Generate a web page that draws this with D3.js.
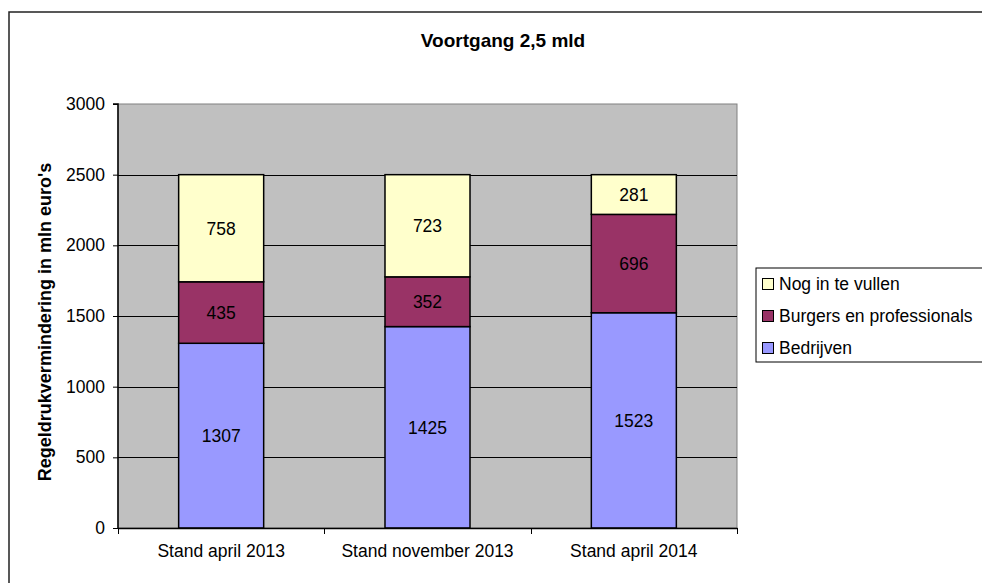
<!DOCTYPE html>
<html>
<head>
<meta charset="utf-8">
<script src="https://cdn.jsdelivr.net/npm/d3@7"></script>
<style>
body { margin: 0; background: #fff; }
svg { display: block; font-family: "Liberation Sans", Arial, sans-serif; }
</style>
</head>
<body>
<div id="chart"></div>
<script>
// stand per moment, in mln euro's
var categories = ["Stand april 2013", "Stand november 2013", "Stand april 2014"];
var bedrijven = [1307, 1425, 1523];
var burgers = [435, 352, 696];
var nogInTeVullen = [758, 723, 281];
var seriesNames = ["Bedrijven", "Burgers en professionals", "Nog in te vullen"];
var seriesColors = ["#9999ff", "#993366", "#ffffcc"];
var yTicks = [0, 500, 1000, 1500, 2000, 2500, 3000];

var width = 982, height = 583;
var margin = {left: 118, top: 104, right: 245, bottom: 55};

var svg = d3.select("#chart").append("svg")
	.attr("width", width)
	.attr("height", height);

// chart border (right and bottom fall outside the picture)
svg.append("rect")
	.attr("x", 9)
	.attr("y", 12)
	.attr("width", 1000)
	.attr("height", 600)
	.attr("fill", "#fff")
	.attr("stroke", "#222")
	.attr("stroke-width", 1.5);

var plotW = width - margin.left - margin.right;
var plotH = height - margin.top - margin.bottom;

var x = d3.scaleBand()
	.domain(categories)
	.range([margin.left, margin.left + plotW])
	.padding(0);

var y = d3.scaleLinear()
	.domain([0, 3000])
	.range([margin.top + plotH, margin.top]);

var barW = x.bandwidth() * 0.412;

// plot area
svg.append("rect")
	.attr("x", margin.left)
	.attr("y", margin.top)
	.attr("width", plotW)
	.attr("height", plotH)
	.attr("fill", "#c0c0c0")
	.attr("stroke", "#808080")
	.attr("stroke-width", 1);

// gridlines
svg.append("g")
	.selectAll("line")
	.data(yTicks.filter(function(d) { return d > 0 && d < 3000; }))
	.enter().append("line")
	.attr("x1", margin.left)
	.attr("x2", margin.left + plotW)
	.attr("y1", function(d) { return Math.round(y(d)) + 0.5; })
	.attr("y2", function(d) { return Math.round(y(d)) + 0.5; })
	.attr("stroke", "#000")
	.attr("stroke-width", 1);

// stacked data
var rows = categories.map(function(c, i) {
	return {cat: c, Bedrijven: bedrijven[i], "Burgers en professionals": burgers[i], "Nog in te vullen": nogInTeVullen[i]};
});
var stack = d3.stack().keys(seriesNames)(rows);

var layer = svg.append("g")
	.selectAll("g")
	.data(stack)
	.enter().append("g")
	.attr("fill", function(d, i) { return seriesColors[i]; });

layer.selectAll("rect")
	.data(function(d) { return d; })
	.enter().append("rect")
	.attr("x", function(d) { return x(d.data.cat) + (x.bandwidth() - barW) / 2; })
	.attr("y", function(d) { return y(d[1]); })
	.attr("width", barW)
	.attr("height", function(d) { return y(d[0]) - y(d[1]); })
	.attr("stroke", "#000")
	.attr("stroke-width", 1.5);

layer.selectAll("text")
	.data(function(d) { return d; })
	.enter().append("text")
	.attr("x", function(d) { return x(d.data.cat) + x.bandwidth() / 2; })
	.attr("y", function(d) { return (y(d[0]) + y(d[1])) / 2; })
	.attr("dy", "0.36em")
	.attr("text-anchor", "middle")
	.attr("fill", "#000")
	.attr("font-size", "17.5px")
	.text(function(d) { return d[1] - d[0]; });

// axes
var yAxis = svg.append("g")
	.attr("transform", "translate(" + margin.left + ",0)")
	.call(d3.axisLeft(y).tickValues(yTicks).tickFormat(d3.format("d")).tickSize(5).tickPadding(8));
var xAxis = svg.append("g")
	.attr("transform", "translate(0," + (margin.top + plotH) + ")")
	.call(d3.axisBottom(x).tickSize(0).tickPadding(17));

[yAxis, xAxis].forEach(function(a) {
	a.select(".domain").attr("stroke", "#000").attr("stroke-width", 1.5);
	a.selectAll("text").attr("font-size", "17.5px").attr("fill", "#000").attr("font-family", null);
	a.selectAll("line").attr("stroke", "#000");
});
yAxis.select(".domain").attr("d", "M-5," + margin.top + "H0V" + (margin.top + plotH));

// category boundary ticks
svg.append("g")
	.selectAll("line")
	.data(d3.range(categories.length + 1))
	.enter().append("line")
	.attr("x1", function(i) { return Math.round(margin.left + i * x.step()) + 0.5; })
	.attr("x2", function(i) { return Math.round(margin.left + i * x.step()) + 0.5; })
	.attr("y1", margin.top + plotH)
	.attr("y2", margin.top + plotH + 6)
	.attr("stroke", "#000");

// title
svg.append("text")
	.attr("x", 503)
	.attr("y", 47)
	.attr("text-anchor", "middle")
	.attr("font-weight", "bold")
	.attr("font-size", "19px")
	.text("Voortgang 2,5 mld");

// y-axis title
svg.append("text")
	.attr("transform", "translate(51," + 322 + ") rotate(-90)")
	.attr("text-anchor", "middle")
	.attr("font-weight", "bold")
	.attr("font-size", "18px")
	.text("Regeldrukvermindering in mln euro's");

// legend
var legend = svg.append("g");
legend.append("rect")
	.attr("x", 756)
	.attr("y", 268)
	.attr("width", 240)
	.attr("height", 94)
	.attr("fill", "#fff")
	.attr("stroke", "#000")
	.attr("stroke-width", 1);

var legendItems = seriesNames.slice().reverse();
var legendColors = seriesColors.slice().reverse();
var item = legend.selectAll("g.item")
	.data(legendItems)
	.enter().append("g")
	.attr("class", "item")
	.attr("transform", function(d, i) { return "translate(762," + (284 + i * 32) + ")"; });

item.append("rect")
	.attr("x", 0.5)
	.attr("y", -5.5)
	.attr("width", 11)
	.attr("height", 11)
	.attr("fill", function(d, i) { return legendColors[i]; })
	.attr("stroke", "#000")
	.attr("stroke-width", 1);

item.append("text")
	.attr("x", 17)
	.attr("dy", "0.36em")
	.attr("font-size", "17.5px")
	.text(function(d) { return d; });
</script>
</body>
</html>
